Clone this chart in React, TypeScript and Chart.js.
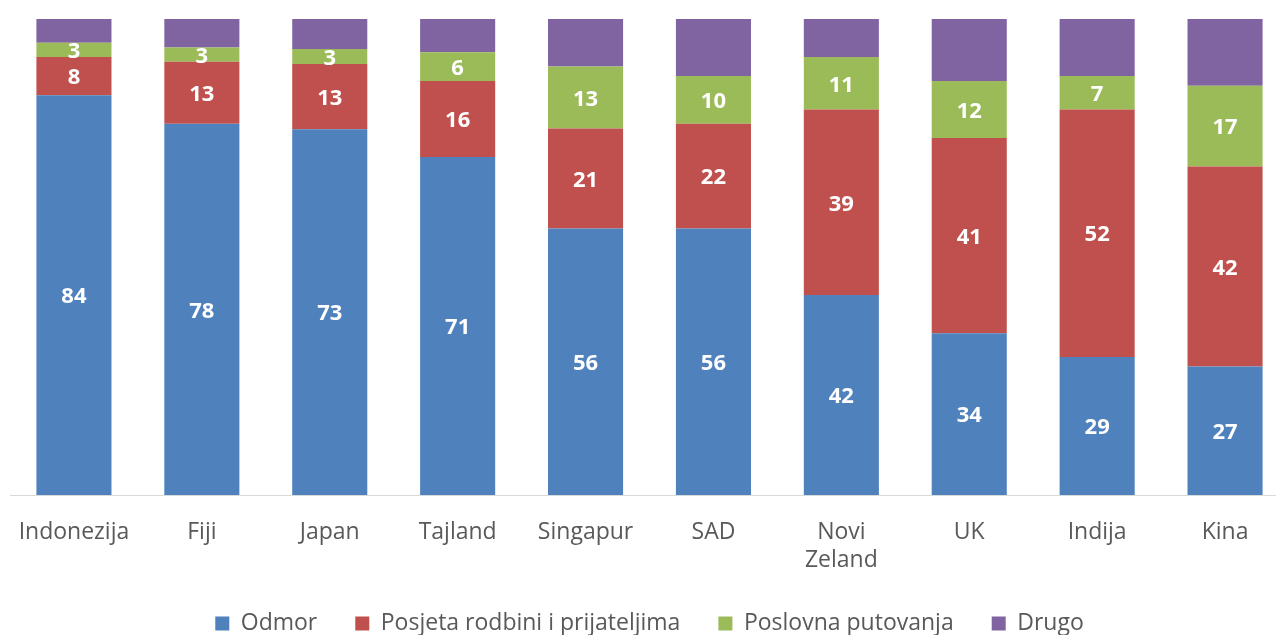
import React, { useEffect, useRef } from "react";
import { Chart, registerables } from "chart.js";

Chart.register(...registerables);

const categories: (string | string[])[] = [
  "Indonezija", "Fiji", "Japan", "Tajland", "Singapur", "SAD", ["Novi", "Zeland"], "UK", "Indija", "Kina",
];
const odmor = [84, 78, 73, 71, 56, 56, 42, 34, 29, 27];
const posjeta = [8, 13, 13, 16, 21, 22, 39, 41, 52, 42];
const poslovna = [3, 3, 3, 6, 13, 10, 11, 12, 7, 17];
const drugo = [5, 6, 6, 7, 10, 12, 8, 13, 12, 14];

const seriesNames = ["Odmor", "Posjeta rodbini i prijateljima", "Poslovna putovanja", "Drugo"];
const seriesColors = ["#4F81BD", "#C0504D", "#9BBB59", "#8064A2"];

const FONT = '"Open Sans", "Noto Sans", sans-serif';

const totals = categories.map((_, i) => odmor[i] + posjeta[i] + poslovna[i] + drugo[i]);
const pct = (arr: number[]) => arr.map((v, i) => (v / totals[i]) * 100);

const labelPlugin = {
  id: "segLabels",
  afterDatasetsDraw(chart: any) {
    const ctx = chart.ctx;
    ctx.save();
    ctx.font = `bold 22px ${FONT}`;
    ctx.fillStyle = "#ffffff";
    ctx.textAlign = "center";
    ctx.textBaseline = "middle";
    chart.data.datasets.forEach((ds: any, di: number) => {
      if (!ds.showLabels) return;
      const meta = chart.getDatasetMeta(di);
      meta.data.forEach((el: any, i: number) => {
        const { x, y, base } = el.getProps(["x", "y", "base"], true);
        ctx.fillText(String(ds.rawValues[i]), x, (y + base) / 2 + 2);
      });
    });
    ctx.restore();
  },
};

export default function App() {
  const ref = useRef<HTMLCanvasElement>(null);
  useEffect(() => {
    if (!ref.current) return;
    const raws = [odmor, posjeta, poslovna, drugo];
    const chart = new Chart(ref.current, {
      type: "bar",
      data: {
        labels: categories,
        datasets: raws.map((arr, k) => ({
          label: seriesNames[k],
          data: pct(arr),
          rawValues: arr,
          showLabels: k < 3,
          backgroundColor: seriesColors[k],
          borderWidth: 0,
          categoryPercentage: 1,
          barPercentage: 0.587,
        })) as any,
      },
      options: {
        responsive: false,
        animation: false,
        layout: { padding: { left: 10, right: 11, top: 19, bottom: 0 } },
        plugins: {
          tooltip: { enabled: false },
          legend: {
            position: "bottom",
            labels: {
              font: { family: FONT, size: 23 },
              color: "#595959",
              boxWidth: 14,
              boxHeight: 14,
              padding: 38,
            },
          },
        },
        scales: {
          x: {
            stacked: true,
            grid: { display: false, drawTicks: false },
            border: { display: true, color: "#D9D9D9", width: 1 },
            ticks: {
              font: { family: FONT, size: 23, lineHeight: 1.2 },
              color: "#595959",
              padding: 24,
              maxRotation: 0,
              autoSkip: false,
            },
            afterFit: (scale: any) => {
              scale.height = 79;
              scale.paddingLeft = 0;
              scale.paddingRight = 0;
            },
          },
          y: {
            stacked: true,
            display: false,
            min: 0,
            max: 100,
          },
        },
      },
      plugins: [labelPlugin],
    });
    return () => chart.destroy();
  }, []);
  return (
    <div style={{ position: "fixed", left: 0, top: 0, width: 1276, height: 635, overflow: "hidden", background: "#fff" }}>
      <canvas ref={ref} width={1300} height={645} style={{ width: 1300, height: 645, display: "block" }} />
    </div>
  );
}
